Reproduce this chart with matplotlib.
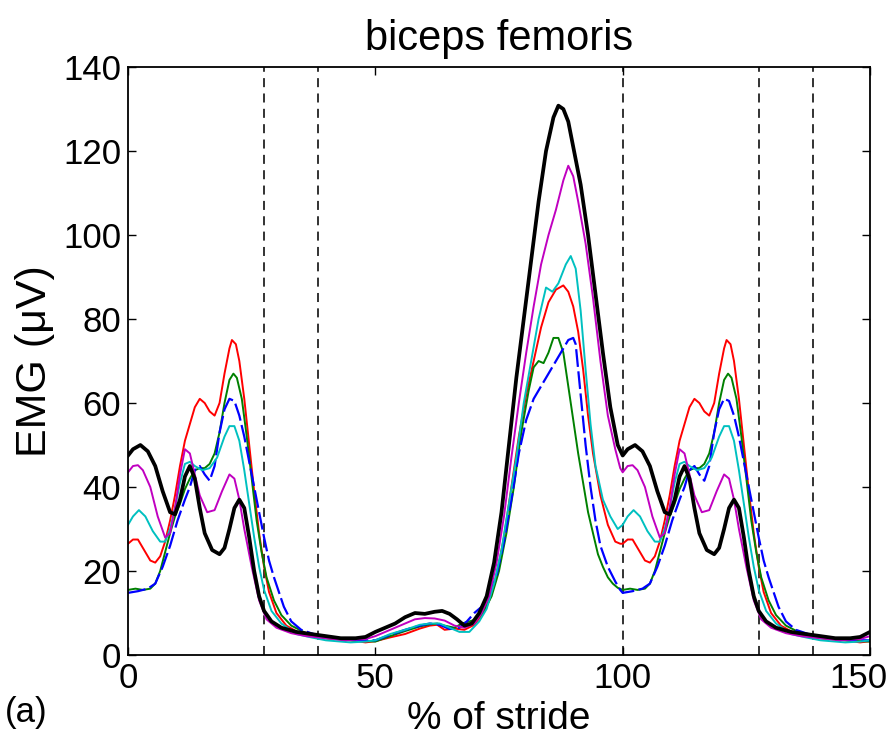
import numpy as np
import matplotlib.pyplot as plt
from matplotlib.transforms import ScaledTranslation

plt.rcParams['font.family'] = ['Liberation Sans', 'DejaVu Sans']

# one stride (0-100 %); 100-150 repeats 0-50
pct_black = [0, 1, 2.5, 4, 5.5, 7, 8.5, 9.5, 10.5, 11.5, 12.5, 13.5, 14.5, 15.5, 17, 18.5, 19.5,
             20.5, 21.5, 22.5, 23.5, 24.5, 25.5, 26.5, 27.5, 29, 31, 34, 37, 40, 43, 46, 48, 50,
             52, 54, 56, 58, 60, 62, 63.5, 65, 66.5, 68, 69.5, 71, 72.5, 74, 75.5, 77, 78.5, 80,
             81.5, 83, 84.5, 86, 87, 88, 89, 90, 91.5, 93, 94.5, 96, 97.5, 99]
emg_black = [47.5, 49, 50, 48.5, 45, 39, 34, 33.5, 37, 42.5, 45, 42, 35, 29, 25, 24, 25.5,
             30, 35, 37, 35, 28, 20, 14, 10.5, 8, 6.5, 5.5, 5, 4.5, 4, 4, 4.3, 5.5,
             6.5, 7.5, 9, 10, 9.8, 10.3, 10.5, 9.8, 8.5, 7, 7.5, 10, 14, 22, 34, 50, 66, 80,
             94, 108, 120, 128, 130.8, 130, 127, 121, 112, 100, 86, 72, 59, 50]

pct_magenta = [0, 1, 2, 3, 4.5, 6, 7.5, 8.5, 9.5, 10.5, 11.5, 12.5, 13.5, 14.5, 16, 17.5, 19,
               20.5, 21.5, 22.5, 23.5, 25, 26.5, 28, 30, 33, 36, 40, 44, 48, 50, 53, 56, 58, 60,
               62, 64, 66, 68, 70, 71.5, 73, 74.5, 76, 77.5, 79, 80.5, 82, 83.5, 85, 86.5, 88,
               89, 90, 91, 92.5, 94, 95.5, 97, 98.5, 99.5]
emg_magenta = [43.5, 45, 45.2, 44, 40, 33, 28, 29, 35, 43, 49, 48, 43, 38, 34, 34.5, 39,
               43, 42, 37, 30, 21, 13, 8.5, 6.5, 5.2, 4.5, 4, 3.5, 3.8, 4.5, 6, 7.5, 8.5, 8.8,
               8.7, 8.2, 7, 6.5, 7.5, 10, 14, 22, 33, 47, 60, 72, 83, 93, 100, 106, 113,
               116.5, 114, 108, 98, 85, 70, 57, 49, 44.5]

pct_cyan = [0, 1, 2.2, 3.5, 5, 6.5, 7.5, 8.5, 9.5, 10.5, 11.5, 12.5, 13.5, 15, 16.5, 18, 19.5,
            20.5, 21.5, 22.5, 23.5, 24.5, 25.5, 26.5, 27.5, 29, 31, 34, 37, 40, 45, 48, 50, 53,
            56, 59, 61, 63, 65, 67, 69, 71, 72.5, 74, 75.5, 77, 78.5, 80, 81.5, 83, 84.5, 85.8,
            87, 88.5, 89.5, 90.5, 91.5, 92.5, 93.5, 94.5, 96, 97.5, 99]
emg_cyan = [31, 33, 34.5, 33, 29.5, 27, 27, 30, 35, 41, 45.5, 46, 45, 44, 44.5, 47, 52,
            54.5, 54.5, 51, 44, 36, 28, 21, 15.5, 10.5, 7.5, 5, 4.2, 3.5, 3, 3.2, 3.5, 5,
            6, 7.2, 7.5, 7.5, 6.5, 5.5, 5.5, 8, 11, 17, 25, 36, 47, 60, 70, 80, 87.5, 86.5,
            88.5, 93, 95, 92, 82, 68, 55, 45, 37, 33, 30]

pct_red = [0, 1, 2, 3, 4.5, 5.5, 6.5, 7.5, 8.5, 9.5, 10.5, 11.5, 12.5, 13.5, 14.5, 15.5, 16.5,
           17.5, 18.5, 19.5, 20.5, 21, 21.8, 22.5, 23.5, 24.5, 25.5, 26.5, 27.5, 28.5, 30, 32,
           35, 40, 45, 48, 50, 53, 56, 59, 61, 62.5, 64, 66, 68, 70, 71.5, 73, 74.5, 76, 77.5,
           79, 80.5, 82, 83.5, 85, 86.5, 88, 89, 90, 91, 92, 93, 94, 95.5, 97, 98.5, 99.5]
emg_red = [26.5, 27.5, 27.5, 25.5, 22.5, 22, 23.5, 27, 32, 38, 45, 51, 55, 59, 61, 60, 58,
           57, 60, 67, 73, 75, 74, 70, 61, 50, 39, 29, 21, 15, 10, 7,
           5, 4, 3.5, 3, 3.3, 4.2, 5, 6.3, 7, 7.2, 6, 6.3, 6, 7.2, 9.5, 13, 19, 28, 40,
           52, 62, 70, 78, 84, 87, 88, 86.5, 83, 77, 68, 57, 48, 38, 31, 27, 26.5]

pct_green = [0, 1.5, 3, 4.5, 5.5, 6.5, 7.5, 8.5, 9.5, 10.5, 11.5, 12.5, 13.5, 14.5, 15.5, 16.5,
             17.5, 18.5, 19.5, 20.5, 21.3, 22, 23, 24, 25, 26, 27, 28, 29.5, 31, 33, 36, 40,
             45, 50, 53, 56, 59, 61, 62.5, 64, 66, 67.5, 69, 70.5, 72, 73.5, 75, 76.5, 78,
             79.5, 81, 82, 83, 84, 85, 86, 87, 88, 89, 90, 91, 92, 93, 94, 95, 96, 97, 98, 99]
emg_green = [15.5, 15.8, 15.5, 15.8, 17, 20, 24.5, 29, 33, 36, 39.5, 42, 44, 44.5, 44.5, 45.5,
             48, 53, 60, 65.5, 67, 66, 61, 52, 42, 32, 24.5, 18.5, 13, 9.5, 7, 5.2, 4,
             3.5, 3.2, 4.5, 5.7, 6.8, 7.3, 7.5, 7, 6.5, 7.5, 8, 8.5, 10.5, 14, 20, 29, 40,
             53, 63, 68.5, 70, 69.5, 72, 75.5, 75.5, 72, 64, 56, 48, 41, 34, 29, 24, 21, 18.5, 17, 16]

pct_blue = [0, 2, 4, 5.5, 7, 8.5, 10, 11.5, 12.5, 13.5, 14.5, 15.5, 16.5, 17.5, 18.5, 19.5, 20.5,
            21.5, 22.5, 23.5, 24.5, 25.5, 26.5, 27.5, 28.5, 29.5, 30.5, 31.5, 33, 35, 38, 42,
            46, 50, 53, 56, 59, 61, 63, 65, 67, 68.5, 70, 71.5, 73, 74.5, 76, 77.5, 79, 80.5,
            82, 83.5, 85, 86.5, 88, 89, 90, 90.5, 91.5, 92.5, 93.5, 94.5, 95.5, 97, 98.5, 99.5]
emg_blue = [14.8, 15.2, 15.8, 17, 21, 26, 32, 37, 40, 44, 45, 43, 41.5, 45, 53, 58.5, 61,
            60.5, 57, 52, 46, 40, 34, 28, 22.5, 18.5, 15, 11.5, 8, 6, 4.8, 4,
            3.5, 3.5, 4.8, 6, 7, 7.5, 7.2, 6.2, 6.5, 8, 10, 11.5, 14, 19, 27, 37, 48, 56,
            61, 64, 67, 70, 73, 75, 75.5, 74, 62, 50, 40, 32, 26, 21, 17.5, 15.5]

event_pct = [27.5, 38.5, 100, 127.5, 138.5]


def one_and_a_half(pct, emg):
    pct = np.asarray(pct, dtype=float)
    emg = np.asarray(emg, dtype=float)
    first_half = pct <= 50
    return (np.concatenate([pct, pct[first_half] + 100]),
            np.concatenate([emg, emg[first_half]]))


fig = plt.figure(figsize=(8.96, 7.44), dpi=100)
ax = fig.add_axes([0.1429, 0.1196, 0.8281, 0.7903])

for x in event_pct:
    ax.axvline(x, color='#222222', lw=1.3, ls=(0, (5, 3.5)), zorder=1)

x, y = one_and_a_half(pct_red, emg_red)
ax.plot(x, y, color='#ff0000', lw=1.4)
x, y = one_and_a_half(pct_green, emg_green)
ax.plot(x, y, color='#008000', lw=1.4)
x, y = one_and_a_half(pct_blue, emg_blue)
ax.plot(x, y, color='#0000ff', lw=1.6, ls=(0, (8, 2)))
x, y = one_and_a_half(pct_cyan, emg_cyan)
ax.plot(x, y, color='#00c0c0', lw=1.4)
x, y = one_and_a_half(pct_magenta, emg_magenta)
ax.plot(x, y, color='#c000c0', lw=1.4)
x, y = one_and_a_half(pct_black, emg_black)
ax.plot(x, y, color='black', lw=2.7)

ax.set_xlim(0, 150)
ax.set_ylim(0, 140)
ax.set_xticks([0, 50, 100, 150])
ax.set_yticks(np.arange(0, 141, 20))
ax.tick_params(direction='in', top=True, right=True, length=6, width=1,
               labelsize=25, pad=5)
for s in ax.spines.values():
    s.set_linewidth(1.3)

# last x tick label nudged left so it stays inside the figure
last = ax.get_xticklabels()[-1]
last.set_transform(last.get_transform() + ScaledTranslation(-0.12, 0, fig.dpi_scale_trans))

ax.set_title('biceps femoris', fontsize=30, pad=12)
ax.set_xlabel('% of stride', fontsize=28)
ax.xaxis.set_label_coords(0.5, -0.078)
ax.set_ylabel('EMG (\u03bcV)', fontsize=31)
ax.yaxis.set_label_coords(-0.098, 0.5)
fig.text(0.005, 0.043, '(a)', fontsize=25, ha='left', va='center')

fig.savefig('out.png', dpi=100)
